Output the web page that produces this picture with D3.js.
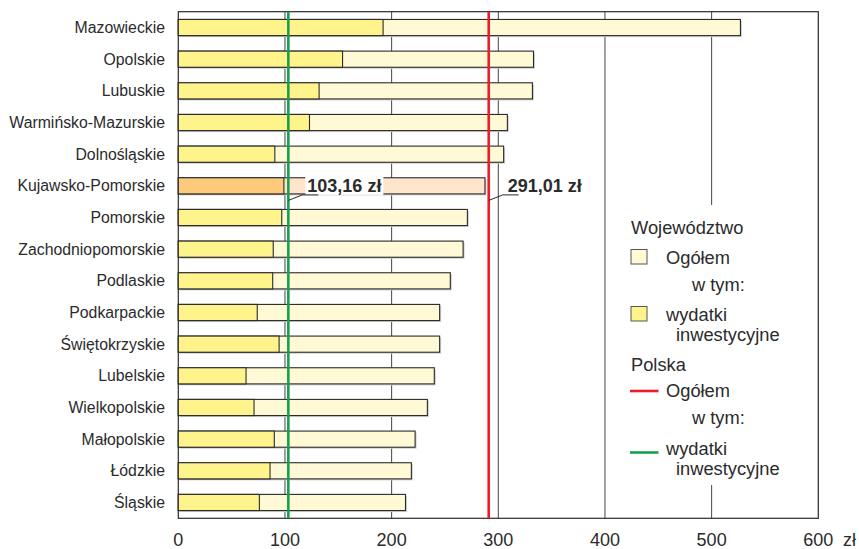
<!DOCTYPE html>
<html>
<head>
<meta charset="utf-8">
<script src="https://cdn.jsdelivr.net/npm/d3@7"></script>
<style>
  html, body { margin: 0; padding: 0; background: #fff; }
  svg { display: block; font-family: "Liberation Sans", Arial, sans-serif; }
</style>
</head>
<body>
<svg id="chart" width="859" height="549"></svg>
<script>
/* wydatki budżetów województw na 1 mieszkańca — bar chart w/ national reference lines */
var regions = ['Mazowieckie', 'Opolskie', 'Lubuskie', 'Warmińsko-Mazurskie', 'Dolnośląskie', 'Kujawsko-Pomorskie',
  'Pomorskie', 'Zachodniopomorskie', 'Podlaskie', 'Podkarpackie', 'Świętokrzyskie', 'Lubelskie',
  'Wielkopolskie', 'Małopolskie', 'Łódzkie', 'Śląskie'];
var total = [527, 333, 332, 308.5, 305, 287.5, 271, 267, 255, 245, 245, 240, 233.5, 222, 218.5, 213];
var invest = [192, 154, 132, 123, 90.5, 99, 97, 89, 88.5, 74, 94.5, 63.5, 71, 90, 86, 76];
var highlight = 'Kujawsko-Pomorskie';
var polska = [291.01, 103.16];          // ogółem, w tym wydatki inwestycyjne
var polskaLabels = ['291,01 zł', '103,16 zł'];
var xTicks = [0, 100, 200, 300, 400, 500, 600];

var svg = d3.select('#chart');
var L = 178.3, R = 818.3, T = 11.7, B = 518.3;
var x = d3.scaleLinear().domain([0, 600]).range([L, R]);
var y = d3.scaleBand().domain(regions).range([T, B]).paddingInner(0.49).paddingOuter(0.245);
var INK = '#2b2b2b';

// gridlines + frame
var gGrid = svg.append('g');
gGrid.selectAll('line').data(xTicks.slice(1, -1)).enter().append('line')
  .attr('x1', function (d) { return x(d); }).attr('x2', function (d) { return x(d); })
  .attr('y1', T).attr('y2', B).attr('stroke', '#444').attr('stroke-width', 1);
gGrid.append('rect').attr('x', L).attr('y', T).attr('width', R - L).attr('height', B - T)
  .attr('fill', 'none').attr('stroke', INK).attr('stroke-width', 1.2);

// legend background covers part of the 500 line
svg.append('rect').attr('x', 618).attr('y', 205).attr('width', 190).attr('height', 280).attr('fill', '#fff');

// bars (shadow, total, investment)
var gBars = svg.append('g');
function isHi(d) { return d === highlight; }
gBars.selectAll('rect.sh').data(regions).enter().append('rect').attr('class', 'sh')
  .attr('x', x(0) + 1.5).attr('y', function (d) { return y(d) + 1.5; })
  .attr('width', function (d, i) { return x(total[i]) - x(0); }).attr('height', y.bandwidth())
  .attr('fill', '#cfcfcf');
gBars.selectAll('rect.tot').data(regions).enter().append('rect').attr('class', 'tot')
  .attr('x', x(0)).attr('y', function (d) { return y(d); })
  .attr('width', function (d, i) { return x(total[i]) - x(0); }).attr('height', y.bandwidth())
  .attr('fill', function (d) { return isHi(d) ? '#fee5cc' : '#fffad5'; })
  .attr('stroke', INK).attr('stroke-width', 1.1);
gBars.selectAll('rect.inv').data(regions).enter().append('rect').attr('class', 'inv')
  .attr('x', x(0)).attr('y', function (d) { return y(d); })
  .attr('width', function (d, i) { return x(invest[i]) - x(0); }).attr('height', y.bandwidth())
  .attr('fill', function (d) { return isHi(d) ? '#fdca7c' : '#fff48c'; })
  .attr('stroke', INK).attr('stroke-width', 1.1);

// Polska lines
svg.append('line').attr('x1', x(polska[1])).attr('x2', x(polska[1])).attr('y1', T).attr('y2', B)
  .attr('stroke', '#16a04e').attr('stroke-width', 2.6);
svg.append('line').attr('x1', x(polska[0])).attr('x2', x(polska[0])).attr('y1', T).attr('y2', B)
  .attr('stroke', '#ec1c2a').attr('stroke-width', 2.6);

// value callouts on Kujawsko-Pomorskie row
var by = y(highlight), bh = y.bandwidth();
polska.forEach(function (v, i) {
  var px = x(v), tx = px + 19;
  var bg = svg.append('rect').attr('fill', '#fff');
  var t = svg.append('text').attr('x', tx).attr('y', by + 14.5).attr('font-size', 18).attr('font-weight', 700)
    .attr('fill', INK).text(polskaLabels[i]);
  var bb = t.node().getBBox();
  bg.attr('x', tx - 2).attr('y', by - 1).attr('width', bb.width + 4).attr('height', bh + 2);
  svg.append('polyline').attr('points', [[px, by + bh + 6.5], [px + 14, by + bh + 1], [px + 30, by + bh + 1]].join(' '))
    .attr('fill', 'none').attr('stroke', INK).attr('stroke-width', 1);
});

// category labels
svg.append('g').selectAll('text').data(regions).enter().append('text')
  .attr('x', 165).attr('y', function (d) { return y(d) + bh / 2 + 5.5; })
  .attr('text-anchor', 'end').attr('font-size', 15.8).attr('fill', INK).text(function (d) { return d; });

// x tick labels
svg.append('g').selectAll('text').data(xTicks).enter().append('text')
  .attr('x', function (d) { return x(d); }).attr('y', 545.5).attr('text-anchor', 'middle')
  .attr('font-size', 18).attr('fill', INK).text(function (d) { return d; });
svg.append('text').attr('x', 843).attr('y', 545.5).attr('font-size', 18).attr('fill', INK).text('zł');

// legend
var lg = svg.append('g').attr('font-size', 18.3).attr('fill', INK);
function lt(tx, ty, s) { lg.append('text').attr('x', tx).attr('y', ty).text(s); }
lt(631, 234, 'Województwo');
lg.append('rect').attr('x', 631).attr('y', 249.5).attr('width', 16).attr('height', 14.5)
  .attr('fill', '#fffad5').attr('stroke', '#555').attr('stroke-width', 1);
lt(666, 264, 'Ogółem');
lt(692, 290.5, 'w tym:');
lg.append('rect').attr('x', 631).attr('y', 306.5).attr('width', 16).attr('height', 14.5)
  .attr('fill', '#fff48c').attr('stroke', '#555').attr('stroke-width', 1);
lt(666, 320.5, 'wydatki');
lt(676, 340.5, 'inwestycyjne');
lt(631, 370.5, 'Polska');
lg.append('line').attr('x1', 630).attr('x2', 658.5).attr('y1', 391).attr('y2', 391).attr('stroke', '#ec1c2a').attr('stroke-width', 2.6);
lt(666, 397, 'Ogółem');
lt(692, 424, 'w tym:');
lg.append('line').attr('x1', 630).attr('x2', 658.5).attr('y1', 452.5).attr('y2', 452.5).attr('stroke', '#16a04e').attr('stroke-width', 2.6);
lt(666, 455, 'wydatki');
lt(676, 475, 'inwestycyjne');
</script>
</body>
</html>
